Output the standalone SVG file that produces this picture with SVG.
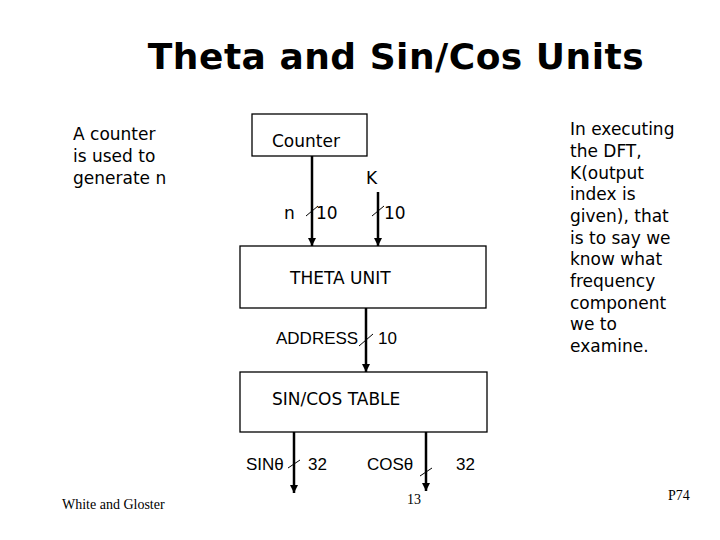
<svg xmlns="http://www.w3.org/2000/svg" width="720" height="540" viewBox="0 0 720 540">
<defs>
<marker id="a" markerWidth="8" markerHeight="9" refX="8" refY="4" orient="auto" markerUnits="userSpaceOnUse"><path d="M0,0 L8,4 L0,8 z" fill="#000"/></marker>
</defs>
<style>
.v{font-family:"DejaVu Sans",Verdana,sans-serif;font-size:17px;fill:#000}
.l{font-family:"Liberation Sans",Arial,sans-serif;font-size:17px;fill:#000}
.s{font-family:"Liberation Serif","Times New Roman",serif;font-size:14px;fill:#000}
.box{fill:#fff;stroke:#000;stroke-width:1.3}
.w{stroke:#000;stroke-width:2.5;fill:none}
.t{stroke:#000;stroke-width:1;fill:none}
</style>
<rect width="720" height="540" fill="#fff"/>
<text x="396" y="69" text-anchor="middle" style="font-family:'DejaVu Sans',Verdana,sans-serif;font-size:36px;font-weight:bold;letter-spacing:0.5px">Theta and Sin/Cos Units</text>
<text class="v" x="73" y="140">A counter</text>
<text class="v" x="73" y="162">is used to</text>
<text class="v" x="73" y="184">generate n</text>
<g class="v">
<text x="570" y="135">In executing</text>
<text x="570" y="157">the DFT,</text>
<text x="570" y="179">K(output</text>
<text x="570" y="200">index is</text>
<text x="570" y="222">given), that</text>
<text x="570" y="244">is to say we</text>
<text x="570" y="265">know what</text>
<text x="570" y="287">frequency</text>
<text x="570" y="309">component</text>
<text x="570" y="330">we to</text>
<text x="570" y="352">examine.</text>
</g>
<g id="connectors">
<line class="w" x1="312" y1="156" x2="312" y2="246" marker-end="url(#a)"/>
<line class="w" x1="378" y1="192" x2="378" y2="246" marker-end="url(#a)"/>
<line class="w" x1="366" y1="308" x2="366" y2="372" marker-end="url(#a)"/>
<line class="w" x1="294" y1="432" x2="294" y2="493" marker-end="url(#a)"/>
<line class="w" x1="426" y1="432" x2="426" y2="491" marker-end="url(#a)"/>
<line class="t" x1="306" y1="216" x2="318" y2="206"/>
<line class="t" x1="372" y1="216" x2="384" y2="206"/>
<line class="t" x1="359" y1="346" x2="373" y2="334"/>
<line class="t" x1="288" y1="468" x2="300" y2="460"/>
<line class="t" x1="420" y1="476" x2="432" y2="468"/>
</g>
<g id="counter"><rect class="box" x="252" y="114" width="115" height="42"/><text class="v" x="272" y="147">Counter</text></g>
<text class="v" x="366" y="184">K</text>
<text class="v" x="284" y="219">n</text>
<text class="v" x="316" y="219">10</text>
<text class="v" x="384" y="219">10</text>
<g id="theta"><rect class="box" x="240" y="246" width="246" height="62"/><text class="v" x="290" y="284">THETA UNIT</text></g>
<text class="l" x="276" y="344">ADDRESS</text>
<text class="l" x="378" y="344">10</text>
<g id="sincos"><rect class="box" x="240" y="372" width="247" height="60"/><text class="v" x="272" y="405">SIN/COS TABLE</text></g>
<text class="l" x="246" y="470">SINθ</text>
<text class="l" x="308" y="470">32</text>
<text class="l" x="367" y="470">COSθ</text>
<text class="l" x="456" y="470">32</text>
<text class="s" x="407" y="504">13</text>
<text class="s" x="62" y="509">White and Gloster</text>
<text class="s" x="668" y="500">P74</text>
</svg>
